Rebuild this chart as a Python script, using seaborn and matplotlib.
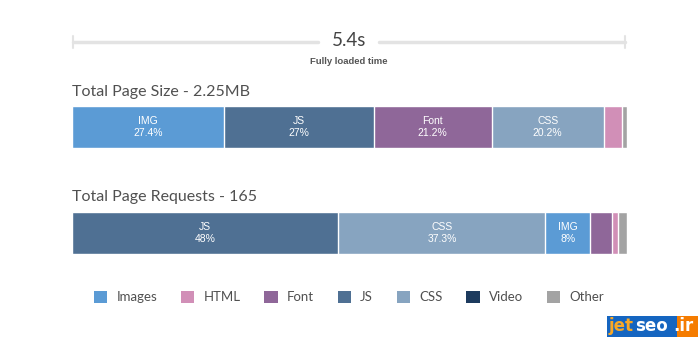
import numpy as np
import pandas as pd
import matplotlib
matplotlib.use("Agg")
import matplotlib.pyplot as plt
from matplotlib.patches import Patch, Rectangle
from matplotlib.lines import Line2D
import seaborn as sns

# ---- data ----
load_time = "5.4s"
load_caption = "Fully loaded time"
size_title = "Total Page Size - 2.25MB"
req_title = "Total Page Requests - 165"

size_types = ["IMG", "JS", "Font", "CSS", "HTML", "Other"]
size_pct = [27.4, 27.0, 21.2, 20.2, 3.3, 0.9]

req_types = ["JS", "CSS", "IMG", "Font", "HTML", "Other"]
req_pct = [48.0, 37.3, 8.0, 4.0, 1.1, 1.6]

legend_labels = ["Images", "HTML", "Font", "JS", "CSS", "Video", "Other"]
legend_keys = ["IMG", "HTML", "Font", "JS", "CSS", "Video", "Other"]

colors = {
    "IMG": "#5b9bd5",
    "HTML": "#d18fb7",
    "Font": "#8f6799",
    "JS": "#4f7093",
    "CSS": "#87a4c0",
    "Video": "#1d3b5e",
    "Other": "#a3a3a3",
}

sns.set_theme(style="white")
plt.rcParams["font.family"] = ["Lato", "DejaVu Sans"]

W, H = 700, 340
fig = plt.figure(figsize=(7, 3.4), dpi=100)
fig.patch.set_facecolor("white")

def fx(px):
    return px / W

def fy(py):
    return 1 - py / H

txt_gray = "#505050"
label_font = ["Liberation Sans", "DejaVu Sans"]

# ---- top timeline ----
line_col = "#e3e3e3"
ly = fy(42)
fig.add_artist(Line2D([fx(73), fx(318)], [ly, ly], color=line_col, lw=2.5))
fig.add_artist(Line2D([fx(379), fx(625)], [ly, ly], color=line_col, lw=2.5))
for xx in (73, 625):
    fig.add_artist(Line2D([fx(xx), fx(xx)], [fy(36), fy(48)], color=line_col, lw=1.5))
fig.text(fx(349), fy(41), load_time, ha="center", va="center", fontsize=13.5,
         color="#444444")
fig.text(fx(349), fy(61), load_caption, ha="center", va="center", fontsize=6.8,
         color="#555555", fontweight="bold", family=label_font)

# ---- stacked bars ----
def stacked(ax, types, pct):
    df = pd.DataFrame({"type": types, "pct": pct})
    df["cum"] = df["pct"].cumsum()
    df["start"] = df["cum"] - df["pct"]
    # draw largest cumulative first so shorter ones overlay
    for _, row in df.iloc[::-1].iterrows():
        sns.barplot(x=[row["cum"]], y=["bar"], orient="h", color=colors[row["type"]],
                    width=1.0, saturation=1, edgecolor="white", linewidth=1.0, ax=ax)
    for _, row in df.iterrows():
        if row["pct"] >= 5:
            c = row["start"] + row["pct"] / 2
            ax.text(c, -0.14, row["type"], ha="center", va="center", color="white",
                    fontsize=7.5, family=label_font)
            ax.text(c, 0.15, f"{row['pct']:g}%", ha="center", va="center", color="white",
                    fontsize=7.5, family=label_font)
    ax.set_xlim(0, df["cum"].iloc[-1])
    ax.set_ylim(0.5, -0.5)
    ax.axis("off")

ax1 = fig.add_axes([fx(72), fy(148), fx(627) - fx(72), (148 - 106) / H])
stacked(ax1, size_types, size_pct)
fig.text(fx(72), fy(92), size_title, ha="left", va="center", fontsize=11.5,
         color=txt_gray)

ax2 = fig.add_axes([fx(72), fy(254), fx(627) - fx(72), (254 - 212) / H])
stacked(ax2, req_types, req_pct)
fig.text(fx(72), fy(197), req_title, ha="left", va="center", fontsize=11.5,
         color=txt_gray)

# ---- legend ----
handles = [Patch(facecolor=colors[k], edgecolor="none") for k in legend_keys]
leg = fig.legend(handles, legend_labels, loc="center", bbox_to_anchor=(fx(349), fy(297)),
                 ncol=7, frameon=False, handlelength=1.0, handleheight=1.0,
                 handletextpad=0.7, columnspacing=1.8, fontsize=9.5)
for t in leg.get_texts():
    t.set_color(txt_gray)

# ---- watermark ----
fig.add_artist(Rectangle((fx(607), fy(337)), fx(677) - fx(607), (337 - 316) / H,
                         transform=fig.transFigure, facecolor="#1565c0", edgecolor="none"))
fig.add_artist(Rectangle((fx(677), fy(337)), fx(698) - fx(677), (337 - 316) / H,
                         transform=fig.transFigure, facecolor="#f57c00", edgecolor="none"))
wm_font = ["DejaVu Sans"]
fig.text(fx(609), fy(326), "jet", ha="left", va="center", fontsize=12, fontweight="bold",
         color="#f9a825", family=wm_font)
fig.text(fx(635), fy(326), "seo", ha="left", va="center", fontsize=12, fontweight="bold",
         color="white", family=wm_font)
fig.text(fx(673), fy(326), ".ir", ha="left", va="center", fontsize=12, fontweight="bold",
         color="white", family=wm_font)

fig.savefig("out.png", dpi=100, facecolor="white")
